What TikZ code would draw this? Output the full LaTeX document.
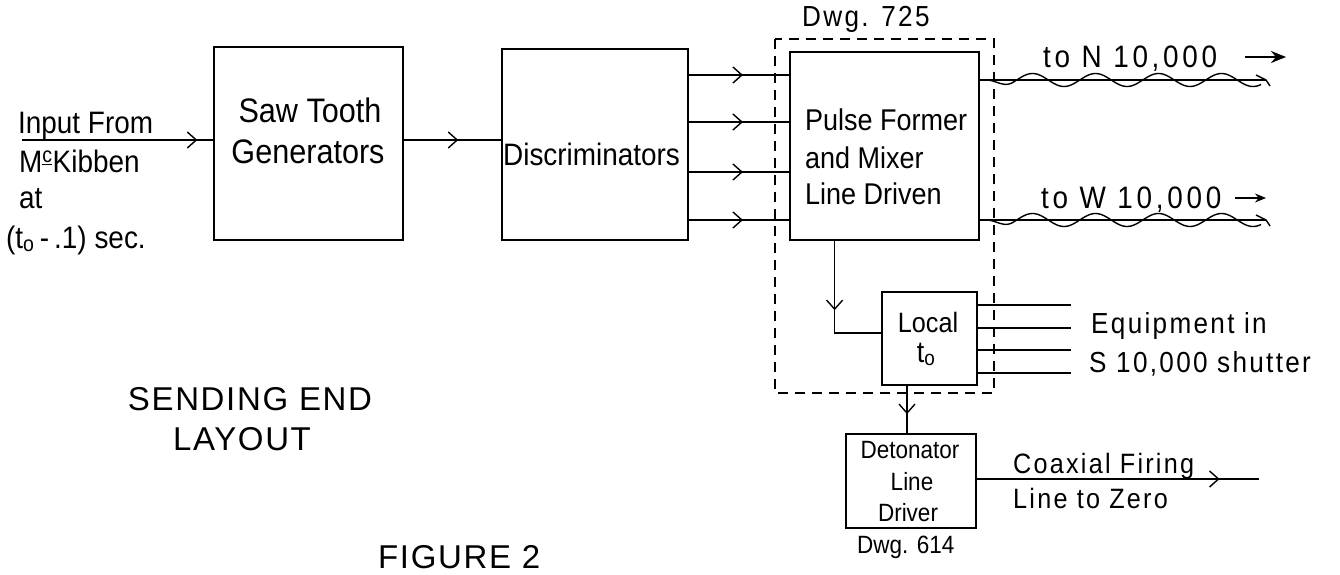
\documentclass[tikz,border=0pt]{standalone}
\usepackage{fontspec}
\setmainfont{Liberation Sans}[FakeStretch=0.9]
\newfontfamily\widefont{Liberation Sans}[FakeStretch=0.9,LetterSpace=8]
\newfontfamily\widerfont{Liberation Sans}[FakeStretch=0.9,LetterSpace=12]
\newfontfamily\capsfont{Liberation Sans}[LetterSpace=5]
\usetikzlibrary{arrows.meta,decorations.markings,calc}
\begin{document}
\begin{tikzpicture}[x=1pt,y=-1pt,
  blk/.style={draw,line width=2.8pt,inner sep=0pt},
  wire/.style={line width=1.4pt},
  arr/.style={postaction={decorate},decoration={markings,
     mark=at position #1 with {\arrow[line width=1.4pt]{Straight Barb[length=9pt,width=16pt]}}}},
  txt/.style={inner sep=0pt,anchor=base west},
  caps/.style={inner sep=0pt,anchor=base,font=\capsfont\fontsize{33}{40}\selectfont}]
\useasboundingbox (0,0) rectangle (1340,575);
% boxes
\node[blk,minimum width=189pt,minimum height=193pt] (saw) at (308.5,143.5) {};
\node[blk,minimum width=186pt,minimum height=191pt] (disc) at (595,144.5) {};
\node[blk,minimum width=189pt,minimum height=188pt] (pulse) at (884.5,146) {};
\node[blk,minimum width=95pt,minimum height=93pt] (loc) at (929.5,338.5) {};
\node[blk,minimum width=130pt,minimum height=94pt] (det) at (911,481) {};
\draw[line width=1.4pt,dash pattern=on 10pt off 7pt] (775,39) rectangle (994,393);
% box texts
\node[txt,anchor=base,font=\fontsize{34}{40}\selectfont] (sawt1) at (310,122) {Saw Tooth};
\node[txt,anchor=base,font=\fontsize{34}{40}\selectfont] (sawt2) at (308,163) {Generators};
\node[txt,font=\fontsize{31}{40}\selectfont] (disct) at (503,165) {Discriminators};
\node[txt,font=\fontsize{30}{40}\selectfont] (pt1) at (805,130) {Pulse Former};
\node[txt,font=\fontsize{30}{40}\selectfont] (pt2) at (805,168) {and Mixer};
\node[txt,font=\fontsize{30}{40}\selectfont] (pt3) at (805,204) {Line Driven};
\node[txt,anchor=base,font=\fontsize{28}{40}\selectfont] (lt1) at (928,332) {Local};
\node[txt,anchor=base,font=\fontsize{30}{40}\selectfont] (lt2) at (926,362) {t\textsubscript{o}};
\node[txt,anchor=base,font=\fontsize{25}{40}\selectfont] (dt1) at (910,458) {Detonator};
\node[txt,anchor=base,font=\fontsize{25}{40}\selectfont] (dt2) at (912,490) {Line};
\node[txt,anchor=base,font=\fontsize{25}{40}\selectfont] (dt3) at (908,521) {Driver};
% left input
\coordinate (inp) at (22,140);
\draw[wire,arr=0.92] (inp) -- (saw.west |- inp);
\node[txt,font=\fontsize{31}{40}\selectfont] (t1) at (18,133) {Input From};
\node[txt,font=\fontsize{31}{40}\selectfont] (t2) at (19,172) {M\textsuperscript{\underline{c}}Kibben};
\node[txt,font=\fontsize{31}{40}\selectfont] (t3) at (19,208) {at};
\node[txt,font=\fontsize{31}{40}\selectfont] (t4) at (6,248) {(t\textsubscript{o}\,-\,.1) sec.};
% saw -> disc
\draw[wire,arr=0.56] (saw.east |- inp) -- (disc.west |- inp);
% disc -> pulse
\foreach \yy in {75,122,172,220}{
  \draw[wire,arr=0.54] (disc.east |- 0,\yy) -- (pulse.west |- 0,\yy);
}
% outputs to N and W
\foreach \yy/\nm in {80/N,220/W}{
  \coordinate (e\nm) at (1266,\yy);
  \draw[wire] (pulse.east |- 0,\yy) -- (e\nm);
  \draw[wire] (pulse.east |- 0,\yy) -- (987,\yy)
     plot[domain=0:274,samples=160,smooth] ({987+\x},{\yy+6.5*sin(\x/63*360+10)*min(1,\x/25)});
  \draw[wire] (1256,\yy-5) -- (e\nm) -- ++(4,6);
}
\node[txt,font=\widerfont\fontsize{31}{40}\selectfont] (tn) at (1043,68) {to N 10,000};
\draw[line width=2.2pt,-{Stealth[length=15pt,width=12pt]}] (1245,57) -- (1286,57);
\node[txt,font=\widerfont\fontsize{31}{40}\selectfont] (tw) at (1041,208) {to W 10,000};
\draw[line width=1.4pt,-{Stealth[length=11pt,width=9pt]}] (1235,198) -- (1266,198);
% pulse -> local
\coordinate (pl) at ($(pulse.south west)+(46,0)$);
\draw[wire,arr=0.5] (pl) |- (loc.west |- 0,333);
% local -> equipment
\foreach \yy/\nm in {305/1,328/2,350/3,373/4}{
  \coordinate (q\nm) at (1071,\yy);
  \draw[wire] (loc.east |- q\nm) -- (q\nm);
}
\node[txt,font=\widefont\fontsize{29}{40}\selectfont] (eq1) at (1091,333) {Equipment in};
\node[txt,font=\widefont\fontsize{29}{40}\selectfont] (eq2) at (1089,372) {S 10,000 shutter};
% local -> detonator
\coordinate (ld) at (907,0);
\draw[wire,arr=0.6] (ld |- loc.south) -- (ld |- det.north);
% detonator output
\coordinate (co) at (1259,479);
\draw[wire,arr=0.86] (det.east |- co) -- (co);
\node[txt,font=\widefont\fontsize{28}{40}\selectfont] (cot1) at (1013,473) {Coaxial Firing};
\node[txt,font=\widefont\fontsize{28}{40}\selectfont] (cot2) at (1013,508) {Line to Zero};
% drawing references
\node[txt,font=\widefont\fontsize{29}{40}\selectfont] (d725) at (802,27) {Dwg. 725};
\node[txt,font=\fontsize{25}{40}\selectfont] (d614) at (857,553) {Dwg. 614};
% titles
\node[caps] (title1) at (250,410) {SENDING END};
\node[caps] (title2) at (242,450) {LAYOUT};
\node[caps,anchor=base west] (fig) at (378,568) {FIGURE 2};
\end{tikzpicture}
\end{document}
